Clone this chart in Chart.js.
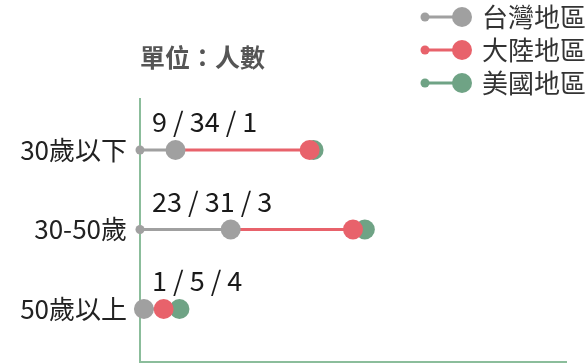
<!DOCTYPE html>
<html>
<head>
<meta charset="utf-8">
<script src="https://cdn.jsdelivr.net/npm/chart.js@4"></script>
<style>
html,body{margin:0;padding:0;background:#fff;overflow:hidden}
canvas{display:block}
</style>
</head>
<body>
<canvas id="c" width="587" height="364"></canvas>
<script>
const categories = ['30歲以下','30-50歲','50歲以上']
const seriesNames = ['台灣地區','大陸地區','美國地區']
const taiwan = [9,23,1]
const mainland = [34,31,5]
const usa = [1,3,4]
const unitTitle = '單位：人數'
const xMax = 108

const colors = ['#a0a0a0','#e8626b','#6fa385']
const axisColor = '#8bbd9b'
const FONT = '"Noto Sans CJK TC","Noto Sans",sans-serif'

// running totals, each dot sits at the end of its segment
const cum1 = taiwan.slice()
const cum2 = taiwan.map((v,i)=>v+mainland[i])
const cum3 = cum2.map((v,i)=>v+usa[i])
const zeros = categories.map(()=>0)

function segs(from,to){
    let out=[]
    categories.forEach((c,i)=>{
        out.push({x:from[i],y:i},{x:to[i],y:i},{x:null,y:null})
    })
    return out
}
function dots(vals){
    return vals.map((v,i)=>({x:v,y:i}))
}

const extras = {
    id:'extras',
    afterDatasetsDraw(chart){
        const ctx = chart.ctx
        const xs = chart.scales.x, ys = chart.scales.y
        ctx.save()
        // value labels above each row
        ctx.font = '27px '+FONT
        ctx.fillStyle = '#1a1a1a'
        ctx.textBaseline = 'middle'
        ctx.textAlign = 'left'
        categories.forEach((c,i)=>{
            ctx.fillText(`${taiwan[i]} / ${mainland[i]} / ${usa[i]}`, xs.getPixelForValue(0)+12, ys.getPixelForValue(i)-28)
        })
        // title
        ctx.font = 'bold 25px '+FONT
        ctx.fillStyle = '#555'
        ctx.fillText(unitTitle, chart.chartArea.left, 57)
        // legend, stacked on the right
        seriesNames.forEach((name,k)=>{
            const cy = 17 + k*33
            ctx.strokeStyle = colors[k]
            ctx.fillStyle = colors[k]
            ctx.lineWidth = 3
            ctx.beginPath(); ctx.moveTo(425,cy); ctx.lineTo(462,cy); ctx.stroke()
            ctx.beginPath(); ctx.arc(425,cy,4.5,0,Math.PI*2); ctx.fill()
            ctx.beginPath(); ctx.arc(462,cy,10,0,Math.PI*2); ctx.fill()
            ctx.font = '26px '+FONT
            ctx.fillStyle = '#333'
            ctx.fillText(name, 482, cy)
        })
        ctx.restore()
    }
}

const dotSet = (vals,k)=>({
    data:dots(vals), showLine:false, pointRadius:10, pointBorderWidth:0,
    backgroundColor:colors[k], borderColor:colors[k], clip:false
})
const lineSet = (from,to,k,startDot)=>({
    data:segs(from,to), showLine:true, spanGaps:false, borderWidth:3,
    borderColor:colors[k], backgroundColor:colors[k], pointBorderWidth:0,
    pointRadius:(c)=>startDot && c.dataIndex%3===0 ? 4.5 : 0, clip:false
})

new Chart(document.getElementById('c'),{
    type:'scatter',
    data:{
        datasets:[
            dotSet(cum1,0), dotSet(cum2,1), dotSet(cum3,2),
            lineSet(zeros,cum1,0,true), lineSet(cum1,cum2,1,false), lineSet(cum2,cum3,2,false)
        ]
    },
    plugins:[extras],
    options:{
        responsive:false,
        animation:false,
        events:[],
        layout:{autoPadding:false, padding:{top:99,right:21,bottom:2,left:0}},
        plugins:{legend:{display:false},tooltip:{enabled:false}},
        scales:{
            x:{
                type:'linear', min:0, max:xMax,
                grid:{display:false, drawTicks:false},
                ticks:{display:false},
                border:{display:true, color:axisColor, width:2},
                afterFit:(s)=>{s.height=0; s.paddingLeft=0; s.paddingRight=0}
            },
            y:{
                type:'linear', reverse:true, min:-0.642, max:2.667,
                grid:{display:false, drawTicks:false},
                border:{display:true, color:axisColor, width:2},
                afterBuildTicks:(s)=>{s.ticks = categories.map((c,i)=>({value:i}))},
                // labels sit well inside the area, so no extra room top/bottom
                afterFit:(s)=>{s.width=140; s.paddingTop=0; s.paddingBottom=0},
                ticks:{
                    padding:13, color:'#222',
                    font:{size:26, family:FONT},
                    callback:(v)=>categories[v]
                }
            }
        }
    }
})
</script>
</body>
</html>
